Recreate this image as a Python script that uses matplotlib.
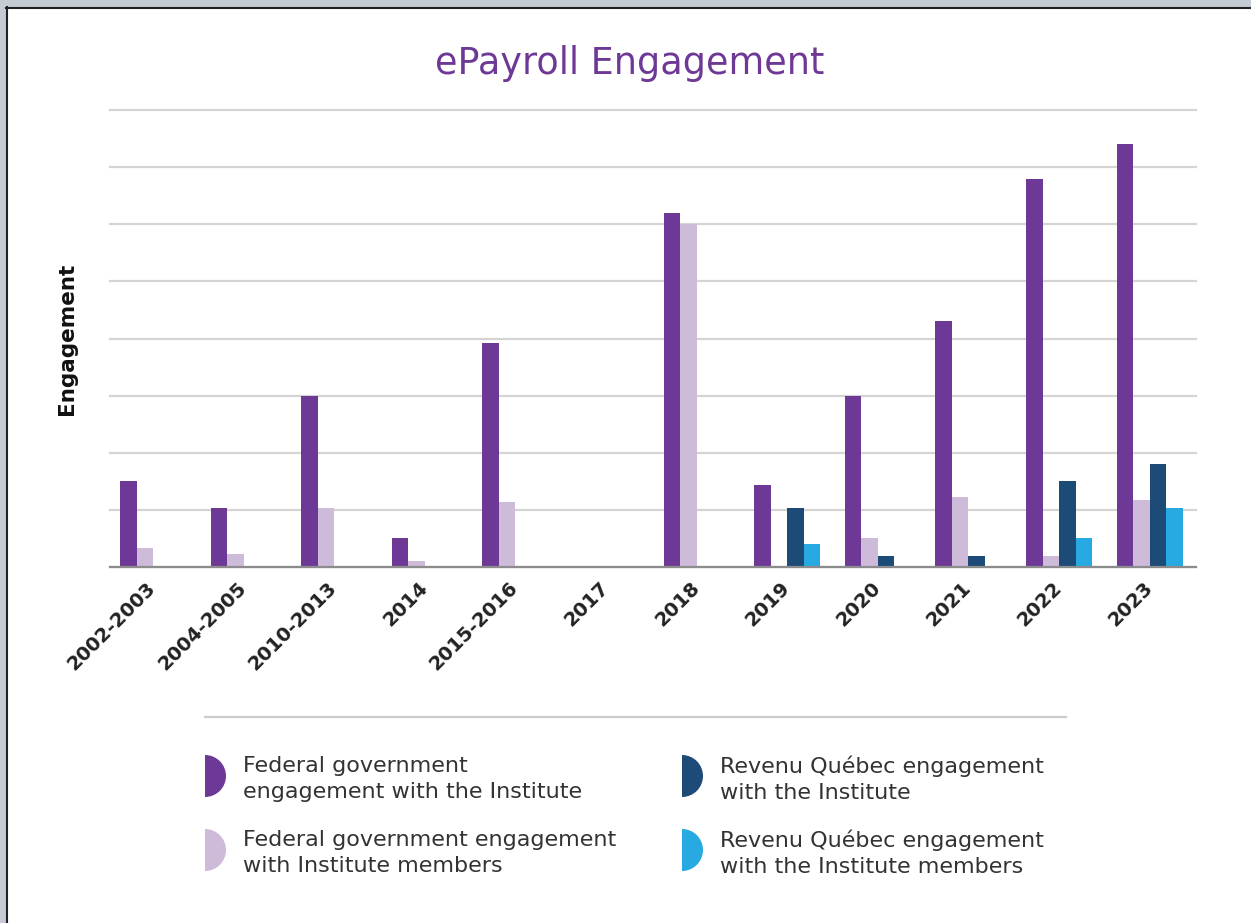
import numpy as np
import matplotlib.pyplot as plt
from matplotlib.patches import Wedge, Rectangle
from matplotlib.transforms import ScaledTranslation

# Data (units = one gridline step)
periods = ["2002-2003", "2004-2005", "2010-2013", "2014", "2015-2016", "2017",
           "2018", "2019", "2020", "2021", "2022", "2023"]
fed_institute = [1.5, 1.04, 3.0, 0.5, 3.92, 0, 6.2, 1.43, 3.0, 4.31, 6.8, 7.41]
fed_members = [0.33, 0.23, 1.04, 0.1, 1.14, 0, 6.0, 0, 0.5, 1.22, 0.2, 1.17]
rq_institute = [0, 0, 0, 0, 0, 0, 0, 1.04, 0.2, 0.2, 1.5, 1.8]
rq_members = [0, 0, 0, 0, 0, 0, 0, 0.41, 0, 0, 0.5, 1.04]

series_labels = [
    "Federal government\nengagement with the Institute",
    "Federal government engagement\nwith Institute members",
    "Revenu Québec engagement\nwith the Institute",
    "Revenu Québec engagement\nwith the Institute members",
]
colors = ["#6E3896", "#CEBAD9", "#1C4B78", "#27AAE2"]

W, H = 1251, 923
fig = plt.figure(figsize=(W / 100, H / 100), dpi=100)
fig.patch.set_facecolor("white")

ax = fig.add_axes([110 / W, 1 - 567 / H, 1086 / W, 457 / H])
x = np.arange(len(periods))
w = 0.182
for k, vals in enumerate([fed_institute, fed_members, rq_institute, rq_members]):
    ax.bar(x + (k - 1.5) * w, vals, width=w, color=colors[k], zorder=3)

ax.set_xlim(-0.4746, 11.512)
ax.set_ylim(0, 8)
ax.set_yticks(np.arange(0, 9))
ax.set_yticklabels([])
ax.yaxis.grid(True, color="#d4d4d4", linewidth=1.6, zorder=0)
for gl in ax.get_ygridlines():
    gl.set_clip_on(False)
ax.tick_params(axis="both", length=0)
for s in ["top", "right", "left"]:
    ax.spines[s].set_visible(False)
ax.spines["bottom"].set_color("#8c8c8c")
ax.spines["bottom"].set_linewidth(1.6)
ax.spines["bottom"].set_zorder(4)

ax.set_xticks(x)
ax.set_xticklabels(periods, rotation=45, ha="right", va="center",
                   rotation_mode="anchor", fontsize=14, fontweight="bold",
                   color="#222222")
ax.tick_params(axis="x", pad=13)
offset = ScaledTranslation(0, 0, fig.dpi_scale_trans)
for lbl in ax.get_xticklabels():
    lbl.set_transform(lbl.get_transform() + offset)

ax.set_ylabel("Engagement", fontsize=15.5, fontweight="bold", color="#111111",
              labelpad=20)

fig.text(630 / W, 1 - 64 / H, "ePayroll Engagement", ha="center", va="center",
         fontsize=26.3, color="#6E3896")

# overlay in pixel coordinates for frame and legend
lax = fig.add_axes([0, 0, 1, 1], zorder=-1)
lax.set_xlim(0, W)
lax.set_ylim(H, 0)
lax.axis("off")
lax.add_patch(Rectangle((0, 0), W, 7, color="#C6CCD4", lw=0))
lax.add_patch(Rectangle((0, 0), 6, H, color="#C6CCD4", lw=0))
lax.plot([6, W], [7.5, 7.5], color="#222222", lw=1.5)
lax.plot([6.5, 6.5], [7, H], color="#222222", lw=1.5)

lax2 = fig.add_axes([0, 0, 1, 1])
lax2.set_xlim(0, W)
lax2.set_ylim(H, 0)
lax2.axis("off")
lax2.plot([205, 1066], [717, 717], color="#cccccc", lw=1.6)
legend_pos = [(205, 776), (205, 850), (682, 776), (682, 850)]
for (lx, ly), c, lab in zip(legend_pos, colors, series_labels):
    lax2.add_patch(Wedge((lx, ly), 21, -90, 90, color=c, lw=0))
    lax2.text(lx + 38, ly + 3, lab, ha="left", va="center", fontsize=16,
              color="#333333", linespacing=1.36)

fig.savefig("out.png", dpi=100)
